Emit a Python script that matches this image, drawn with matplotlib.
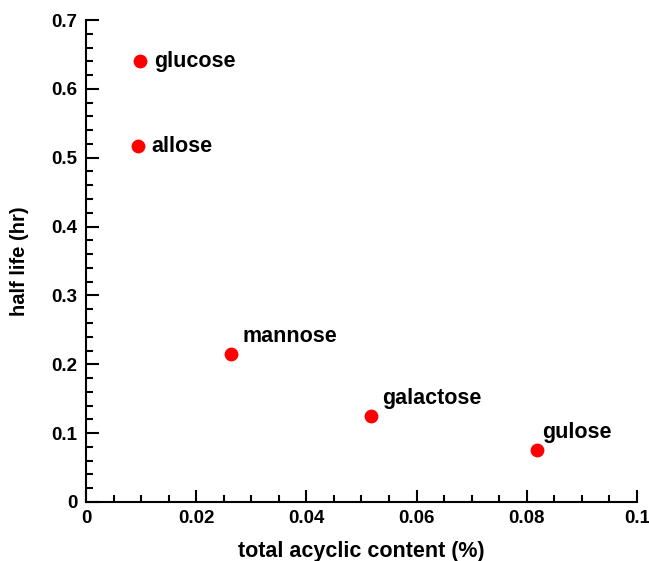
import numpy as np
import matplotlib.pyplot as plt
from matplotlib.ticker import MultipleLocator

plt.rcParams['font.family'] = ['Liberation Sans', 'DejaVu Sans']
plt.rcParams['font.weight'] = 'bold'

# sugars: acyclic content vs half life
sugars = ['glucose', 'allose', 'mannose', 'galactose', 'gulose']
acyclic = [0.0098, 0.0094, 0.0263, 0.0517, 0.0818]
half_life = [0.640, 0.517, 0.215, 0.125, 0.076]
# label offsets in points
offsets = [(10, 0), (10, 0), (8, 5), (8, 5), (4, 5)]

fig = plt.figure(figsize=(6.49, 5.61), dpi=100)
ax = fig.add_axes([0.1325, 0.1052, 0.849, 0.8591])

ax.scatter(acyclic, half_life, s=80, color='#ff0000', zorder=3, clip_on=False)
for name, x, y, off in zip(sugars, acyclic, half_life, offsets):
    va = 'center' if off[1] == 0 else 'bottom'
    ax.annotate(name, (x, y), xytext=off, textcoords='offset points',
                fontsize=15.5, fontweight='bold', ha='left', va=va)

ax.set_xlim(0, 0.1)
ax.set_ylim(0, 0.7)
ax.xaxis.set_minor_locator(MultipleLocator(0.005))
ax.yaxis.set_minor_locator(MultipleLocator(0.02))
ax.set_xticks([0, 0.02, 0.04, 0.06, 0.08, 0.1])
ax.set_xticklabels(['0', '0.02', '0.04', '0.06', '0.08', '0.1'])
ax.set_yticks([0, 0.1, 0.2, 0.3, 0.4, 0.5, 0.6, 0.7])
ax.set_yticklabels(['0', '0.1', '0.2', '0.3', '0.4', '0.5', '0.6', '0.7'])

for side in ['top', 'right']:
    ax.spines[side].set_visible(False)
for side in ['left', 'bottom']:
    ax.spines[side].set_linewidth(1.5)
ax.tick_params(which='both', direction='in', width=1.5, labelsize=13.5, pad=6)
ax.tick_params(which='major', length=9)
ax.tick_params(which='minor', length=5)

ax.set_xlabel('total acyclic content (%)', fontsize=15.5, fontweight='bold', labelpad=10)
ax.set_ylabel('half life (hr)', fontsize=14.5, fontweight='bold', labelpad=16)

plt.savefig('out.png', dpi=100)
